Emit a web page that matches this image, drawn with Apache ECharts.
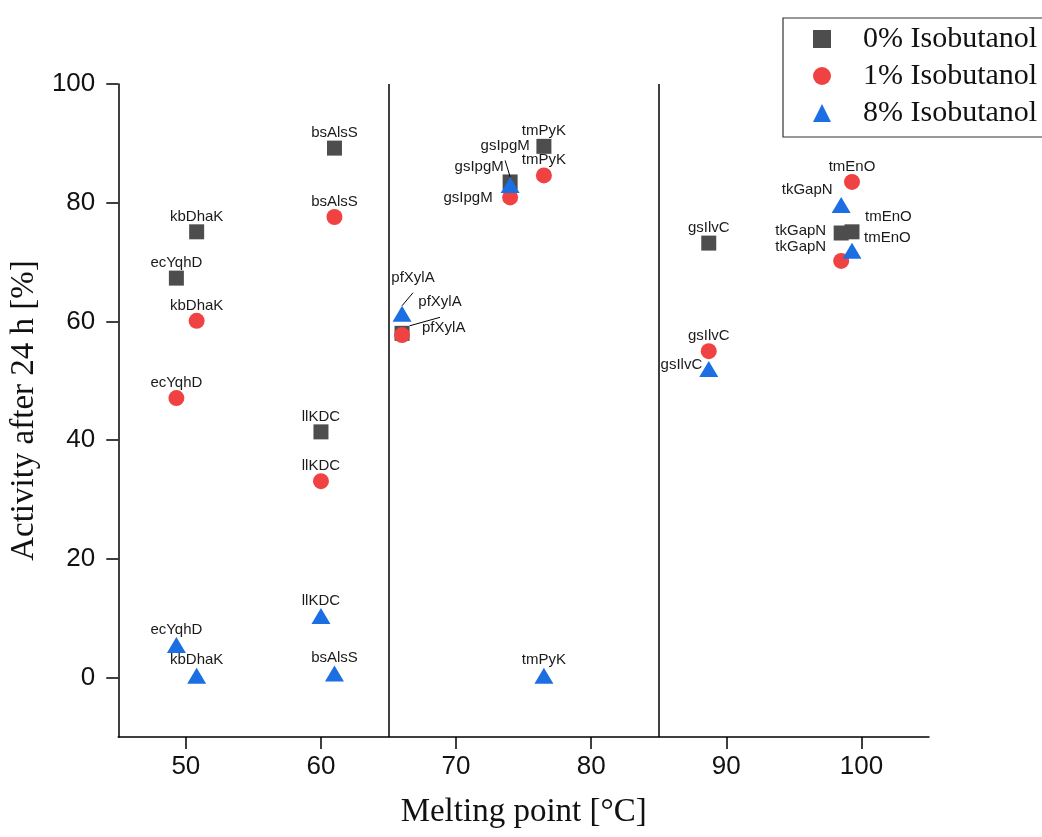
<!DOCTYPE html>
<html><head><meta charset="utf-8">
<script src="https://cdn.jsdelivr.net/npm/echarts@6/dist/echarts.min.js"></script>
<style>html,body{margin:0;padding:0;background:#fff}#chart{width:1042px;height:837px}</style>
</head><body><div id="chart"></div>
<script>
// ---- data ----
const enzymes      = ['ecYqhD','kbDhaK','llKDC','bsAlsS','pfXylA','gsIpgM','tmPyK','gsIlvC','tkGapN','tmEnO'];
const meltingPoint = [49.3, 50.8, 60.0, 61.0, 66.0, 74.0, 76.5, 88.7, 98.5, 99.3];
const activity0    = [67.3, 75.1, 41.4, 89.2, 58.0, 83.5, 89.5, 73.2, 74.9, 75.1];
const activity1    = [47.1, 60.1, 33.1, 77.6, 57.7, 80.9, 84.6, 55.0, 70.2, 83.5];
const activity8    = [5.5, 0.3, 10.4, 0.7, 61.3, 83.0, 0.3, 52.0, 79.6, 71.9];
const seriesNames  = ['0% Isobutanol','1% Isobutanol','8% Isobutanol'];
const xTicks = [50,60,70,80,90,100];
const yTicks = [0,20,40,60,80,100];
const dividers = [65,85];

// ---- styling ----
const colors  = ['#4d4d4d','#f04242','#1c6fe3'];
const symbols = ['rect','circle','triangle'];
const sizes   = [15, 16, [19,16]];
const labelTweaks = [
  { gsIpgM:{offset:[-31,0]}, pfXylA:{offset:[38,-16],line:true},
    tkGapN:{position:'left',distance:7.5,offset:[0,-2.5]}, tmEnO:{position:'right',distance:5.5,offset:[0,-15]} },
  { gsIpgM:{position:'left',distance:9.5}, pfXylA:{position:'right',distance:12,offset:[0,-7.5]},
    tkGapN:{position:'left',distance:7,offset:[0,-14]} },
  { gsIpgM:{offset:[-5,-24],line:true}, pfXylA:{offset:[11,-20.5],line:true},
    gsIlvC:{position:'left',distance:-3,offset:[0,-4]}, tkGapN:{offset:[-34,0],line:true},
    tmEnO:{position:'right',distance:2.5,offset:[0,-13]} }
];
const activities = [activity0, activity1, activity8];
const sansFont = "'Liberation Sans', Arial, sans-serif";
const serifFont = "'Liberation Serif', 'Times New Roman', serif";

function buildData(si){
  return enzymes.map((name,i)=>{
    const t = labelTweaks[si][name] || {};
    const item = {name, value:[meltingPoint[i], activities[si][i]]};
    const lab = {};
    if (t.position) lab.position = t.position;
    if (t.distance !== undefined) lab.distance = t.distance;
    if (t.offset) lab.offset = t.offset;
    item.label = lab;
    if (t.line) item.labelLine = {show:true, lineStyle:{color:'#000', width:1}};
    return item;
  });
}

const series = seriesNames.map((sn,si)=>{
  const s = {
    name: sn, type:'scatter', symbol: symbols[si], symbolSize: sizes[si],
    itemStyle:{color: colors[si], opacity:1},
    data: buildData(si),
    label:{show:true, position:'top', distance:0, formatter:'{b}',
      fontFamily: sansFont, fontSize:15, color:'#1a1a1a'},
    labelLine:{show:false},
    emphasis:{disabled:true}, z: 2+si
  };
  if (si===0){
    s.markLine = {silent:true, symbol:'none', label:{show:false},
      lineStyle:{color:'#000', width:1.5, type:'solid'},
      data: dividers.map(d=>({xAxis:d}))};
  }
  return s;
});

const chart = echarts.init(document.getElementById('chart'));
chart.setOption({
  animation:false,
  backgroundColor:'#fff',
  grid:{left:118, right:113, top:84, bottom:100, containLabel:false},
  legend:{
    data: seriesNames, orient:'vertical', left:783, top:18,
    borderColor:'#333', borderWidth:1.2, padding:[6,20,9,30],
    itemWidth:18, itemHeight:18, itemGap:7,
    textStyle:{fontFamily:serifFont, fontSize:30, lineHeight:30, color:'#111', padding:[0,0,0,27]},
    selectedMode:false
  },
  xAxis:{
    type:'value', min:45, max:105,
    name:'Melting point [°C]', nameLocation:'middle', nameGap:59,
    nameTextStyle:{fontFamily:serifFont, fontSize:33, color:'#111'},
    axisLine:{show:true, onZero:false, lineStyle:{color:'#000', width:1.5}},
    axisTick:{show:true, inside:false, length:12, customValues:xTicks, lineStyle:{color:'#000', width:1.5}},
    axisLabel:{customValues:xTicks, margin:17, fontFamily:sansFont, fontSize:26, color:'#111'},
    splitLine:{show:false}
  },
  yAxis:{
    type:'value', min:-10, max:100,
    name:'Activity after 24 h [%]', nameLocation:'middle', nameGap:66,
    nameTextStyle:{fontFamily:serifFont, fontSize:33, color:'#111'},
    axisLine:{show:true, onZero:false, lineStyle:{color:'#000', width:1.5}},
    axisTick:{show:true, inside:false, length:12, customValues:yTicks, lineStyle:{color:'#000', width:1.5}},
    axisLabel:{customValues:yTicks, margin:23, fontFamily:sansFont, fontSize:26, color:'#111'},
    splitLine:{show:false}
  },
  series
});
</script></body></html>
